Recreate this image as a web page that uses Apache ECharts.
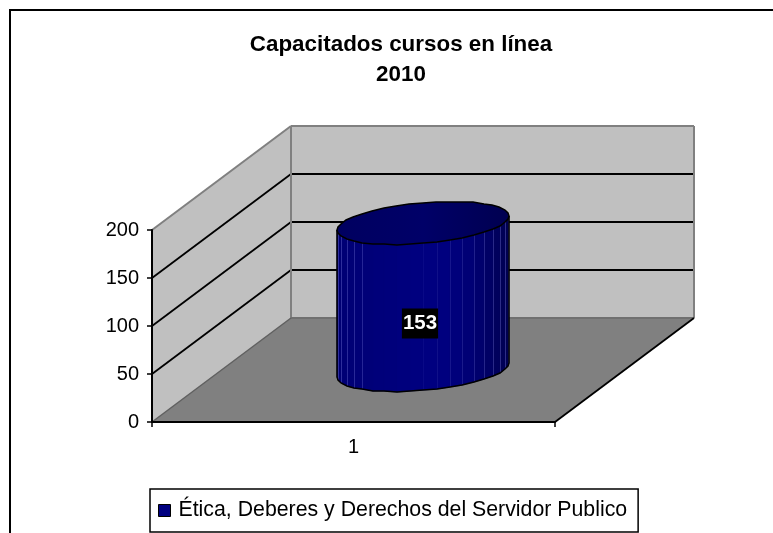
<!DOCTYPE html>
<html><head><meta charset="utf-8">
<style>html,body{margin:0;padding:0;background:#fff}#c{width:773px;height:533px}</style>
<script src="https://cdn.jsdelivr.net/npm/echarts@6/dist/echarts.min.js"></script>
</head><body><div id="c"></div>
<script>
const titleLines = ['Capacitados cursos en línea', '2010'];
const categories = ['1'];
const seriesName = 'Ética, Deberes y Derechos del Servidor Publico';
const values = [153];
const yTicks = [0, 50, 100, 150, 200];
const gridValues = [50, 100, 150];

const FONT = '"Liberation Sans", Arial, sans-serif';
const DX = 139, DY = -104;      // oblique depth of the 3D box
const R1 = 81, RD = 0.207, FACETS = 40, PHASE = 0.345;

const chart = echarts.init(document.getElementById('c'), null, {renderer: 'canvas'});

function wallItem(params, api) {
  const cs = params.coordSys;
  const L = cs.x, R = cs.x + cs.width;
  const y0 = api.coord([0, 0])[1], yT = api.coord([0, 200])[1];
  const kids = [];
  const poly = (pts, fill) => kids.push({type: 'polygon', shape: {points: pts}, style: {fill}});
  const line = (a, b, stroke, w) => kids.push({type: 'line', shape: {x1: a[0], y1: a[1], x2: b[0], y2: b[1]},
    style: {stroke, lineWidth: w}});
  poly([[L + DX, yT + DY], [R + DX, yT + DY], [R + DX, y0 + DY], [L + DX, y0 + DY]], '#c0c0c0');
  poly([[L, yT], [L + DX, yT + DY], [L + DX, y0 + DY], [L, y0]], '#c0c0c0');
  poly([[L, y0], [L + DX, y0 + DY], [R + DX, y0 + DY], [R, y0]], '#808080');
  gridValues.forEach(v => {
    const y = api.coord([0, v])[1];
    line([L, y], [L + DX, y + DY], '#000', 1.8);
    line([L + DX, y + DY], [R + DX, y + DY], '#000', 2);
  });
  line([L, yT], [L + DX, yT + DY], '#808080', 2);
  line([L + DX, yT + DY], [R + DX, yT + DY], '#808080', 2);
  line([L + DX, yT + DY], [L + DX, y0 + DY], '#808080', 2);
  line([R + DX, yT + DY], [R + DX, y0 + DY], '#808080', 2);
  line([L + DX, y0 + DY], [R + DX, y0 + DY], '#707070', 2);
  line([L, y0], [L + DX, y0 + DY], '#606060', 1.5);
  line([R, y0], [R + DX, y0 + DY], '#000', 1.8);
  return {type: 'group', children: kids};
}

function cylinderItem(params, api) {
  const cat = api.value(0), val = api.value(1);
  const base = api.coord([cat, 0]), top = api.coord([cat, val]);
  const cx = base[0] + DX / 2;
  const by = base[1] + DY / 2, ty = top[1] + DY / 2;
  const pt = (th, y) => [
    Math.round(cx + R1 * Math.cos(th) + RD * DX * Math.sin(th)),
    Math.round(y + RD * DY * Math.sin(th))];
  const kids = [];
  const shade = x => {
    const t = (x - cx) / (R1 + 5);
    const b = t < 0 ? 128 + 12 * t : 128 - 62 * Math.max(0, t - 0.1) * Math.max(0, t - 0.1);
    return 'rgb(0,0,' + Math.round(b) + ')';
  };
  const ths = [];
  for (let i = FACETS / 2; i <= FACETS; i++) ths.push(2 * Math.PI * i / FACETS + PHASE);
  const frontTop = ths.map(th => pt(th, ty));
  const frontBot = ths.map(th => pt(th, by));
  ths.forEach((th, i) => {
    if (i === ths.length - 1) return;
    const a = frontTop[i], b = frontTop[i + 1], c = frontBot[i + 1], d = frontBot[i];
    const col = shade((a[0] + b[0]) / 2);
    kids.push({type: 'polygon', shape: {points: [a, b, c, d]}, style: {fill: col, stroke: col, lineWidth: 0.5}});
  });
  ths.forEach((th, i) => {
    if (i === 0 || i === ths.length - 1) return;
    const a = frontTop[i], d = frontBot[i];
    const t = (a[0] - cx) / R1;
    if (t > -0.75 && t < -0.15) return;
    kids.push({type: 'line', shape: {x1: a[0] + 0.5, y1: a[1], x2: d[0] + 0.5, y2: d[1]},
      style: {stroke: 'rgba(120,120,220,' + (0.08 + 0.3 * Math.abs(t)).toFixed(2) + ')', lineWidth: 1}});
  });
  kids.push({type: 'polyline', shape: {points: [frontTop[0]].concat(frontBot, [frontTop[frontTop.length - 1]])},
    style: {fill: null, stroke: '#000', lineWidth: 1.5}});
  const topPts = [];
  for (let i = 0; i < FACETS; i++) topPts.push(pt(2 * Math.PI * i / FACETS + PHASE, ty));
  kids.push({type: 'polygon', shape: {points: topPts},
    style: {fill: new echarts.graphic.LinearGradient(0, 0, 1, 0, [
      {offset: 0, color: '#000060'}, {offset: 0.5, color: '#000068'}, {offset: 1, color: '#000050'}]),
      stroke: '#000', lineWidth: 1.5}});
  const midY = (base[1] + top[1]) / 2 + DY / 4;
  kids.push({type: 'text', x: cx - 3, y: midY + 1, style: {
    text: String(val), fill: '#fff', font: 'bold 20.5px ' + FONT, align: 'center', verticalAlign: 'middle',
    backgroundColor: '#000', padding: [5, 1, 4, 1]}});
  return {type: 'group', children: kids};
}

chart.setOption({
  animation: false,
  backgroundColor: '#fff',
  title: {
    text: titleLines.join('\n'), left: 396, top: 25, textAlign: 'center',
    textStyle: {fontFamily: FONT, fontWeight: 'bold', fontSize: 22.4, lineHeight: 30, color: '#000'}
  },
  grid: {left: 152, top: 230, width: 403, height: 192},
  xAxis: {
    type: 'category', data: categories, boundaryGap: true,
    axisLine: {lineStyle: {color: '#000', width: 2}},
    axisTick: {show: true, length: 5, lineStyle: {color: '#000', width: 1.5}},
    axisLabel: {fontFamily: FONT, fontSize: 20, color: '#000', margin: 15},
    splitLine: {show: false}, z: 5
  },
  yAxis: {
    type: 'value', min: yTicks[0], max: yTicks[yTicks.length - 1], interval: 50,
    axisLine: {show: true, lineStyle: {color: '#000', width: 2}},
    axisTick: {show: true, length: 5, lineStyle: {color: '#000', width: 1.5}},
    axisLabel: {fontFamily: FONT, fontSize: 20, color: '#000', margin: 13},
    splitLine: {show: false}, z: 5
  },
  legend: {
    left: 150, top: 489, orient: 'horizontal',
    padding: [11, 11, 11, 8],
    backgroundColor: '#fff', borderColor: '#000', borderWidth: 1.5,
    itemWidth: 12, itemHeight: 12, itemGap: 0,
    textStyle: {fontFamily: FONT, fontSize: 21.3, color: '#000', padding: [1, 0, 0, 3]},
    data: [{name: seriesName, icon: 'rect', itemStyle: {color: '#000080', borderColor: '#000', borderWidth: 1}}]
  },
  graphic: [
    {type: 'line', shape: {x1: 9, y1: 10, x2: 773, y2: 10}, style: {stroke: '#000', lineWidth: 2}},
    {type: 'line', shape: {x1: 10, y1: 9, x2: 10, y2: 533}, style: {stroke: '#000', lineWidth: 2}}
  ],
  series: [
    {type: 'custom', name: 'walls', silent: true, clip: false, z: 1, renderItem: wallItem, data: [[0, 0]],
     encode: {x: 0, y: 1}},
    {type: 'custom', name: seriesName, clip: false, z: 10, renderItem: cylinderItem,
     itemStyle: {color: '#000080'}, encode: {x: 0, y: 1},
     data: values.map((v, i) => [i, v])}
  ]
});
</script></body></html>
